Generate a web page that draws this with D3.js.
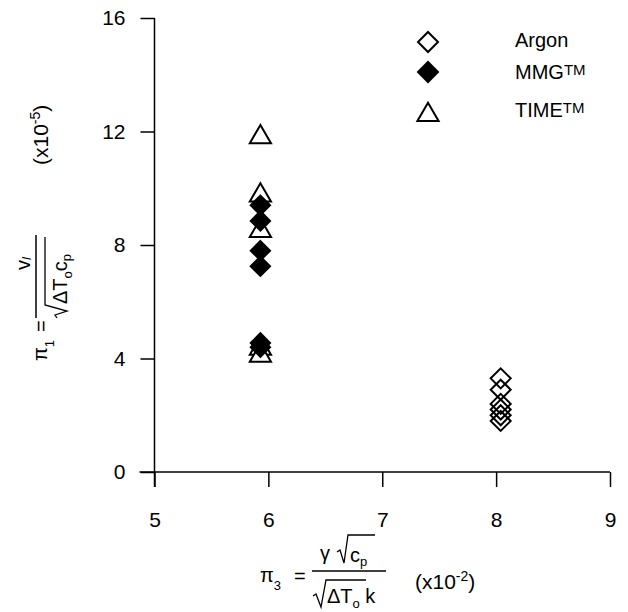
<!DOCTYPE html>
<html><head><meta charset="utf-8">
<script src="https://cdn.jsdelivr.net/npm/d3@7"></script>
<style>
body{margin:0;background:#fff;}
svg{display:block;font-family:"Liberation Sans",Arial,sans-serif;}
</style></head>
<body><svg id="c" width="628" height="612"></svg>
<script>
// ---- data ----
const seriesNames = ["Argon", "MMG", "TIME"];
const argonPi3 = [8.04, 8.04, 8.04, 8.04, 8.04, 8.04];
const argonPi1 = [3.3, 2.9, 2.4, 2.2, 2.0, 1.8];
const mmgPi3 = [5.93, 5.93, 5.93, 5.93, 5.93, 5.93];
const mmgPi1 = [9.4, 8.85, 7.8, 7.25, 4.55, 4.4];
const timePi3 = [5.93, 5.93, 5.93, 5.93, 5.93];
const timePi1 = [11.8, 9.75, 8.5, 4.35, 4.1];
const xTicks = [5, 6, 7, 8, 9];
const yTicks = [0, 4, 8, 12, 16];

const svg = d3.select("#c");
const x = d3.scaleLinear().domain([5, 9]).range([154.5, 610]);
const y = d3.scaleLinear().domain([0, 16]).range([472, 18]);
const FS = 20;
const FF = "Liberation Sans, Arial, sans-serif";

// axes
const yAxis = d3.axisLeft(y).tickValues(yTicks).tickFormat(d3.format("d"))
  .tickSize(14).tickSizeOuter(0).tickPadding(15);
const gy = svg.append("g").attr("transform", `translate(${x(5)},0)`).call(yAxis);
const xAxis = d3.axisBottom(x).tickValues(xTicks).tickFormat(d3.format("d"))
  .tickSize(15).tickSizeOuter(0).tickPadding(25);
const gx = svg.append("g").attr("transform", `translate(0,${y(0)})`).call(xAxis);
[gx, gy].forEach(g => {
  g.attr("font-size", 21).attr("font-family", FF);
  g.select(".domain").remove();
  g.selectAll(".tick line").attr("stroke", "#000").attr("stroke-width", 1.5);
  g.selectAll(".tick text").attr("fill", "#000");
});
svg.append("line").attr("x1", x(5)).attr("x2", x(5)).attr("y1", y(16)).attr("y2", y(0) + 15)
  .attr("stroke", "#000").attr("stroke-width", 1.5);
svg.append("line").attr("x1", x(5) - 15).attr("x2", x(9)).attr("y1", y(0)).attr("y2", y(0))
  .attr("stroke", "#000").attr("stroke-width", 1.5);

// symbols
const diamond = "M0,-10L10,0L0,10L-10,0Z";
const triangle = "M0,-12.2L10.6,6.1L-10.6,6.1Z";

function pts(xs, ys) { return xs.map((d, i) => [d, ys[i]]); }

svg.append("g").selectAll("path").data(pts(timePi3, timePi1)).join("path")
  .attr("d", triangle).attr("transform", d => `translate(${x(d[0])},${y(d[1])})`)
  .attr("fill", "#fff").attr("stroke", "#000").attr("stroke-width", 2);
svg.append("g").selectAll("path").data(pts(mmgPi3, mmgPi1)).join("path")
  .attr("d", diamond).attr("transform", d => `translate(${x(d[0])},${y(d[1])})`)
  .attr("fill", "#000").attr("stroke", "#000").attr("stroke-width", 1.5);
svg.append("g").selectAll("path").data(pts(argonPi3, argonPi1)).join("path")
  .attr("d", diamond).attr("transform", d => `translate(${x(d[0])},${y(d[1])})`)
  .attr("fill", "none").attr("stroke", "#000").attr("stroke-width", 2);

// legend
const leg = svg.append("g").attr("font-size", FS);
const legRows = [
  {sym: diamond, fill: "none", cy: 42, ty: 47, name: seriesNames[0], tm: false},
  {sym: diamond, fill: "#000", cy: 72, ty: 79, name: seriesNames[1], tm: true},
  {sym: triangle, fill: "none", cy: 115, ty: 117, name: seriesNames[2], tm: true}
];
legRows.forEach(r => {
  leg.append("path").attr("d", r.sym).attr("transform", `translate(428,${r.cy})`)
    .attr("fill", r.fill).attr("stroke", "#000").attr("stroke-width", 2);
  const t = leg.append("text").attr("x", 515).attr("y", r.ty).text(r.name);
  if (r.tm) t.append("tspan").attr("font-size", 15).attr("dy", -4).text("TM");
});

const line = d3.line();
// x axis title
const xt = svg.append("g").attr("font-size", FS);
const tx = xt.append("text").attr("x", 260).attr("y", 582);
tx.append("tspan").text("π");
tx.append("tspan").attr("font-size", 13).attr("dy", 8).text("3");
xt.append("text").attr("x", 294).attr("y", 583).text("=");
xt.append("line").attr("x1", 312).attr("x2", 386).attr("y1", 571).attr("y2", 571).attr("stroke", "#000").attr("stroke-width", 1.5);
xt.append("text").attr("x", 320).attr("y", 560).text("γ");
xt.append("path").attr("d", line([[337, 552], [340, 550], [344, 563], [348, 535], [375, 535]]))
  .attr("fill", "none").attr("stroke", "#000").attr("stroke-width", 1.3);
const tn = xt.append("text").attr("x", 350).attr("y", 562);
tn.append("tspan").text("c");
tn.append("tspan").attr("font-size", 13).attr("dy", 4).text("p");
xt.append("path").attr("d", line([[313, 596], [316, 594], [321, 607], [326, 580], [366, 580]]))
  .attr("fill", "none").attr("stroke", "#000").attr("stroke-width", 1.3);
const td = xt.append("text").attr("x", 327).attr("y", 603);
td.append("tspan").text("ΔT");
td.append("tspan").attr("font-size", 13).attr("dy", 5).text("o");
td.append("tspan").attr("dy", -5).text(" k");
const tx2 = xt.append("text").attr("x", 415).attr("y", 589).attr("font-size", 21);
tx2.append("tspan").text("(x10");
tx2.append("tspan").attr("font-size", 14).attr("dy", -8).text("-2");
tx2.append("tspan").attr("dy", 8).text(")");

// y axis title (rotated: local x = -screenY, local y = screenX)
const yt = svg.append("g").attr("transform", "rotate(-90)").attr("font-size", FS);
const ty1 = yt.append("text").attr("x", -361).attr("y", 47);
ty1.append("tspan").text("π");
ty1.append("tspan").attr("font-size", 13).attr("dy", 7).text("1");
yt.append("text").attr("x", -332).attr("y", 48).text("=");
yt.append("line").attr("x1", -318).attr("x2", -235).attr("y1", 36).attr("y2", 36).attr("stroke", "#000").attr("stroke-width", 1.5);
const tv = yt.append("text").attr("x", -270).attr("y", 30);
tv.append("tspan").text("v");
tv.append("tspan").attr("font-size", 13).attr("dy", 1).attr("font-style", "italic").text("l");
yt.append("path").attr("d", line([[-318, 57], [-315, 55], [-311, 67], [-305, 45], [-237, 45]]))
  .attr("fill", "none").attr("stroke", "#000").attr("stroke-width", 1.3);
const tdy = yt.append("text").attr("x", -304).attr("y", 67);
tdy.append("tspan").text("ΔT");
tdy.append("tspan").attr("font-size", 13).attr("dy", 5).text("o");
tdy.append("tspan").attr("dy", -5).text("c");
tdy.append("tspan").attr("font-size", 13).attr("dy", 4).text("p");
const ty2 = yt.append("text").attr("x", -165).attr("y", 48).attr("font-size", 21);
ty2.append("tspan").text("(x10");
ty2.append("tspan").attr("font-size", 14).attr("dy", -8).text("-5");
ty2.append("tspan").attr("dy", 8).text(")");
</script></body></html>
